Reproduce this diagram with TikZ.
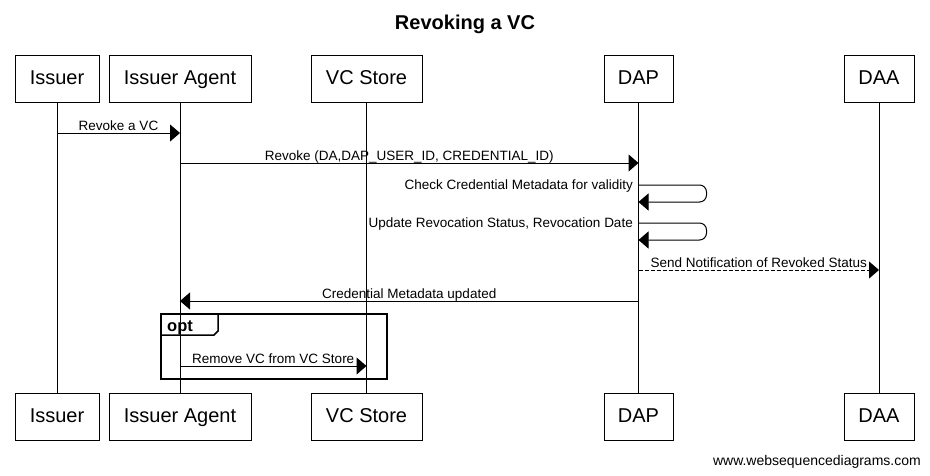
\documentclass[tikz,border=0pt]{standalone}
\usepackage{fontspec}
\setmainfont{Liberation Sans}
\usetikzlibrary{arrows.meta}

\tikzset{
  actor/.style={draw, line width=1pt, minimum height=47pt, inner sep=0pt,
    text height=15pt, text depth=4pt, font=\fontsize{20}{24}\selectfont},
  msg/.style={line width=1pt, -{Triangle[length=10pt,width=17pt]}},
  lbl/.style={font=\fontsize{13.5}{16}\selectfont, inner sep=0pt},
  msgtext/.style={lbl, anchor=base, yshift=3pt},
}

\begin{document}
\begin{tikzpicture}[x=1pt,y=-1pt]
  \useasboundingbox (0,0) rectangle (930,475);

  % Title
  \node[font=\bfseries\fontsize{20}{24}\selectfont, anchor=base] (title) at (465,29) {Revoking a VC};

  % Participants, top and bottom, with their lifelines
  \foreach \name/\x/\w/\txt in {issuer/57/84/Issuer, agent/180/142/Issuer Agent,
      store/366.5/111/VC Store, dap/638.5/69/DAP, daa/879/70/DAA} {
    \node[actor, minimum width=\w pt] (\name-top) at (\x,78.5) {\txt};
    \node[actor, minimum width=\w pt] (\name-bot) at (\x,416.5) {\txt};
    \draw[line width=1pt] (\name-top) -- (\name-bot);
  }

  % Messages
  \draw[msg] (issuer-top |- 0,133) -- node[msgtext] {Revoke a VC} (agent-top |- 0,133);
  \draw[msg] (agent-top |- 0,163) -- node[msgtext] {Revoke (DA,DAP\_USER\_ID, CREDENTIAL\_ID)} (dap-top |- 0,163);

  % DAP to itself
  \draw[msg, rounded corners=7pt] (dap-top |- 0,185) -- ++(68,0) |- (dap-top |- 0,202);
  \node[lbl, anchor=base east] (check) at (633,189) {Check Credential Metadata for validity};
  \draw[msg, rounded corners=7pt] (dap-top |- 0,223) -- ++(68,0) |- (dap-top |- 0,240);
  \node[lbl, anchor=base east] (update) at (633,227) {Update Revocation Status, Revocation Date};

  \draw[msg, dash pattern=on 4pt off 2pt] (dap-top |- 0,270) -- node[msgtext] {Send Notification of Revoked Status} (daa-top |- 0,270);
  \draw[msg] (dap-top |- 0,301) -- node[msgtext] {Credential Metadata updated} (agent-top |- 0,301);

  % opt frame
  \draw[line width=1.5pt] (161,314) rectangle (387,379);
  \draw[line width=1.5pt] (161,335) -- (214,335) -- (218,331) -- (218,314);
  \node[font=\bfseries\fontsize{16.5}{19}\selectfont, anchor=base west, inner sep=0pt] (opt) at (167,331) {opt};
  \draw[msg] (agent-top |- 0,366) -- node[msgtext] {Remove VC from VC Store} (store-top |- 0,366);

  % Credit
  \node[font=\fontsize{14}{16}\selectfont, anchor=base east, inner sep=0pt] (credit) at (921,465) {www.websequencediagrams.com};
\end{tikzpicture}
\end{document}
